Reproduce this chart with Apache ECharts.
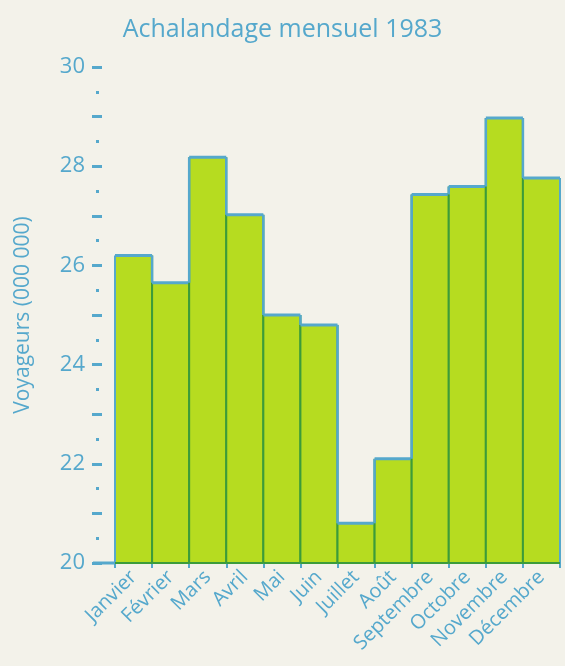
<!DOCTYPE html>
<html>
<head>
<meta charset="utf-8">
<script src="https://cdn.jsdelivr.net/npm/echarts@6/dist/echarts.min.js"></script>
<style>
html,body{margin:0;padding:0;background:#f3f2ea;}
#c{width:565px;height:666px;}
</style>
</head>
<body>
<div id="c"></div>
<script>
var months = ['Janvier','Février','Mars','Avril','Mai','Juin','Juillet','Août','Septembre','Octobre','Novembre','Décembre'];
var riders = [26.2, 25.65, 28.18, 27.02, 25.0, 24.8, 20.8, 22.1, 27.43, 27.59, 28.97, 27.76];
var yMin = 20, yMax = 30, yStep = 2;

var BLUE = '#55a8cc';
var GREEN = '#3c9c3a';
var FILL = '#b6dc20';
var FONT = 'Open Sans';

var seriesData = riders.map(function (v, i) { return [i, v]; });

var chart = echarts.init(document.getElementById('c'));
chart.setOption({
  backgroundColor: '#f3f2ea',
  animation: false,
  title: {
    text: 'Achalandage mensuel 1983',
    left: 'center', top: 12,
    textStyle: {color: BLUE, fontFamily: FONT, fontSize: 25, fontWeight: 'normal'}
  },
  grid: {left: 115, right: 5, top: 67, bottom: 103, outerBoundsMode: 'none', containLabel: false},
  xAxis: {
    type: 'category', data: months, boundaryGap: true,
    axisLine: {show: true, lineStyle: {color: GREEN, width: 2}},
    axisTick: {show: true, length: 5, lineStyle: {color: BLUE, width: 2}},
    axisLabel: {rotate: 45, fontSize: 20, color: BLUE, fontFamily: FONT, margin: 11, interval: 0}
  },
  yAxis: [
    {
      type: 'value', position: 'left', min: yMin, max: yMax, interval: yStep, offset: 13,
      name: 'Voyageurs (000 000)', nameLocation: 'middle', nameGap: 68, nameRotate: 90,
      nameTextStyle: {color: BLUE, fontFamily: FONT, fontSize: 21},
      axisLine: {show: false},
      splitLine: {show: false},
      axisTick: {show: true, length: 10, lineStyle: {color: BLUE, width: 3}},
      axisLabel: {color: BLUE, fontFamily: FONT, fontSize: 22, margin: 17}
    },
    {
      type: 'value', position: 'left', min: yMin, max: yMax, interval: 1, offset: 13,
      axisLine: {show: false}, splitLine: {show: false}, axisLabel: {show: false},
      axisTick: {show: true, length: 10, lineStyle: {color: BLUE, width: 3}}
    },
    {
      type: 'value', position: 'left', min: yMin, max: yMax, interval: 0.5, offset: 16,
      axisLine: {show: false}, splitLine: {show: false}, axisLabel: {show: false},
      axisTick: {show: true, length: 3, lineStyle: {color: BLUE, width: 3}}
    }
  ],
  series: [{
    type: 'custom',
    data: seriesData,
    encode: {x: 0, y: 1},
    renderItem: function (params, api) {
      var i = api.value(0);
      var v = api.value(1);
      var top = api.coord([i, v]);
      var base = api.coord([i, yMin]);
      var w = api.size([1, 0])[0];
      var x0 = top[0] - w / 2, x1 = top[0] + w / 2;
      var children = [
        {type: 'rect', shape: {x: x0, y: top[1], width: w, height: base[1] - top[1]}, style: {fill: FILL}},
        {type: 'line', shape: {x1: x1, y1: top[1], x2: x1, y2: base[1]}, style: {stroke: GREEN, lineWidth: 2}},
        {type: 'line', shape: {x1: x0, y1: top[1], x2: x0, y2: base[1]}, style: {stroke: i === 0 ? BLUE : GREEN, lineWidth: 2}},
        {type: 'line', shape: {x1: x0, y1: top[1], x2: x1, y2: top[1]}, style: {stroke: BLUE, lineWidth: 3}}
      ];
      if (i > 0) {
        var prevTop = api.coord([i - 1, riders[i - 1]]);
        var upper = Math.min(prevTop[1], top[1]);
        var lower = Math.max(prevTop[1], top[1]);
        children.push({type: 'line', shape: {x1: x0, y1: upper, x2: x0, y2: lower}, style: {stroke: BLUE, lineWidth: 2.5}});
      }
      if (i === riders.length - 1) {
        children.push({type: 'line', shape: {x1: x1, y1: top[1], x2: x1, y2: base[1]}, style: {stroke: BLUE, lineWidth: 2}});
      }
      children.push({type: 'line', shape: {x1: x0, y1: base[1], x2: x1, y2: base[1]}, style: {stroke: GREEN, lineWidth: 2}});
      if (i === 0) {
        children.push({type: 'line', shape: {x1: x0 - 22, y1: base[1], x2: x0, y2: base[1]}, style: {stroke: BLUE, lineWidth: 3}});
      }
      return {type: 'group', children: children};
    }
  }]
});
</script>
</body>
</html>
